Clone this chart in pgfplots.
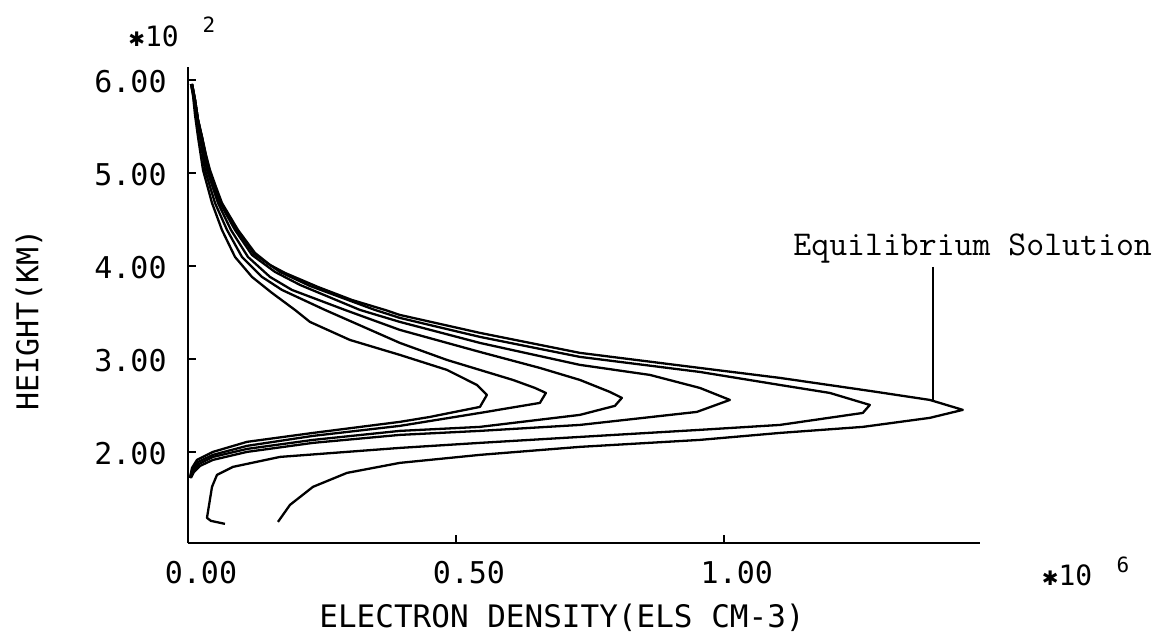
\documentclass[border=0pt]{standalone}
\usepackage{fontspec}
\usepackage{pgfplots}
\pgfplotsset{compat=1.18}
\newfontfamily\plotfont{DejaVu Sans Mono}
\newfontfamily\symfont{DejaVu Sans}
\tikzset{curve/.style={line width=1.15pt, black, no marks, line join=round}}
\begin{document}
\begin{tikzpicture}
\begin{axis}[
  at={(94pt,47.5pt)}, anchor=south west,
  scale only axis, width=396pt, height=238pt,
  xmin=0, xmax=1.478, ymin=102, ymax=614,
  axis x line=bottom, axis y line=left,
  axis line style={-, line width=1.2pt, black},
  tick align=inside, major tick length=4pt,
  tick style={line width=1pt, black},
  xtick={0,0.5,1}, xticklabels={0.00,0.50,1.00},
  ytick={200,300,400,500,600}, yticklabels={2.00,3.00,4.00,5.00,6.00},
  xticklabel style={font={\plotfont\fontsize{15pt}{18pt}\selectfont}, anchor=center, inner sep=0pt, yshift=-15pt, xshift=6.5pt},
  yticklabel style={font={\plotfont\fontsize{15pt}{18pt}\selectfont}, anchor=east, inner sep=0pt, xshift=-10.5pt, yshift=-1pt},
  clip=false,
]
% curve 1
\addplot[curve] coordinates {
(0.0056,595.7) (0.0093,583.9) (0.0131,562.4) (0.0187,538.7) (0.0280,503.2)
(0.0448,467.7) (0.0634,438.7) (0.0877,409.7) (0.1194,388.2) (0.1567,371.0)
(0.1996,352.7) (0.2276,339.8) (0.3022,320.4) (0.3955,304.3) (0.4832,288.2)
(0.5392,272.0) (0.5578,261.3) (0.5448,248.4) (0.4515,237.6) (0.3955,232.3)
(0.2332,220.4) (0.1101,210.8) (0.0466,200.0) (0.0168,191.4) (0.0075,182.8)
(0.0037,172.0)};
% curve 2
\addplot[curve] coordinates {
(0.0056,595.7) (0.0112,578.5) (0.0168,557.0) (0.0224,538.7) (0.0317,503.2)
(0.0504,467.7) (0.0728,438.7) (0.1007,409.7) (0.1381,388.2) (0.1754,374.2)
(0.2556,352.7) (0.3955,317.2) (0.4832,298.9) (0.6063,277.4) (0.6474,268.8)
(0.6679,263.4) (0.6567,252.7) (0.5448,241.9) (0.3955,228.0) (0.2332,217.2)
(0.1101,206.5) (0.0466,196.8) (0.0187,189.2) (0.0075,180.6) (0.0037,172.0)};
% curve 3
\addplot[curve] coordinates {
(0.0075,595.7) (0.0131,578.5) (0.0187,557.0) (0.0243,538.7) (0.0354,503.2)
(0.0560,467.7) (0.0802,438.7) (0.1119,409.7) (0.1530,388.2) (0.1940,374.2)
(0.2929,352.7) (0.3955,331.2) (0.5448,307.5) (0.6567,290.3) (0.7313,277.4)
(0.7873,264.5) (0.8097,258.1) (0.7966,249.5) (0.7313,239.8) (0.5448,226.9)
(0.3955,222.6) (0.2332,212.9) (0.1101,203.2) (0.0466,194.6) (0.0205,187.1)
(0.0093,179.6) (0.0037,172.0)};
% curve 4
\addplot[curve] coordinates {
(0.0075,595.7) (0.0131,578.5) (0.0187,557.0) (0.0261,538.7) (0.0373,503.2)
(0.0597,467.7) (0.0877,438.7) (0.1194,411.8) (0.1623,393.6) (0.2090,379.6)
(0.3209,352.7) (0.3955,339.8) (0.5448,317.2) (0.7313,293.6) (0.8619,282.8)
(0.9552,268.8) (1.0112,255.9) (0.9496,243.0) (0.7313,229.0) (0.5448,222.6)
(0.3955,218.3) (0.2332,209.7) (0.1101,200.0) (0.0466,191.4) (0.0224,184.9)
(0.0112,178.5) (0.0056,172.0)};
% curve 5
\addplot[curve] coordinates {
(0.0075,595.7) (0.0131,578.5) (0.0187,557.0) (0.0261,538.7) (0.0392,503.2)
(0.0616,467.7) (0.0914,438.7) (0.1231,412.9) (0.1716,393.6) (0.2276,378.5)
(0.3489,352.7) (0.3955,344.1) (0.5448,323.7) (0.7313,302.2) (0.9552,286.0)
(1.1045,272.0) (1.1978,263.4) (1.2724,250.5) (1.2593,241.9) (1.1045,229.0)
(0.9552,223.7) (0.7313,216.1) (0.5448,209.7) (0.3955,204.3) (0.1716,194.6)
(0.0840,183.9) (0.0541,175.3) (0.0448,162.4) (0.0354,129.0) (0.0429,125.8)
(0.0690,122.6)};
% curve 6 (equilibrium solution)
\addplot[curve] coordinates {
(0.0075,595.7) (0.0131,578.5) (0.0187,557.0) (0.0261,538.7) (0.0336,519.4)
(0.0410,503.2) (0.0522,485.0) (0.0634,467.7) (0.0933,438.7) (0.1250,414.0)
(0.1530,401.1) (0.1810,392.5) (0.2425,377.4) (0.3060,363.4) (0.3675,352.7)
(0.3955,347.3) (0.5448,328.0) (0.7313,306.5) (0.9552,290.3) (1.1045,279.6)
(1.2724,265.6) (1.3843,255.9) (1.4459,245.2) (1.3843,236.6) (1.2593,226.9)
(1.1045,220.4) (0.9552,212.9) (0.7313,205.4) (0.5448,196.8) (0.3955,188.2)
(0.2966,177.4) (0.2332,162.4) (0.1903,143.0) (0.1679,124.7)};
\draw[line width=1.15pt] (axis cs:1.390,398.9) -- (axis cs:1.390,253.8);
\end{axis}
\node[font={\ttfamily\fontsize{17.4pt}{20pt}\selectfont}, anchor=base west, inner sep=0pt] at (396.5pt,191pt) {Equilibrium Solution};
\node[font={\plotfont\fontsize{15.5pt}{18pt}\selectfont}, inner sep=0pt] at (281pt,10pt) {ELECTRON DENSITY(ELS CM-3)};
\node[font={\plotfont\fontsize{15pt}{18pt}\selectfont}, rotate=90, inner sep=0pt] at (14.5pt,159pt) {HEIGHT(KM)};
\node[font={\plotfont\fontsize{14pt}{16pt}\selectfont}, inner sep=0pt] at (76.75pt,301pt) {{\symfont\fontsize{10pt}{11pt}\selectfont ✱}10};
\node[font={\plotfont\fontsize{10.5pt}{12pt}\selectfont}, inner sep=0pt] at (104.5pt,306.5pt) {2};
\node[font={\plotfont\fontsize{14pt}{16pt}\selectfont}, inner sep=0pt] at (533.5pt,31.5pt) {{\symfont\fontsize{10pt}{11pt}\selectfont ✱}10};
\node[font={\plotfont\fontsize{10.5pt}{12pt}\selectfont}, inner sep=0pt] at (561.5pt,36.5pt) {6};
\pgfresetboundingbox
\useasboundingbox (0,0) rectangle (580.5pt,319pt);
\end{tikzpicture}
\end{document}
